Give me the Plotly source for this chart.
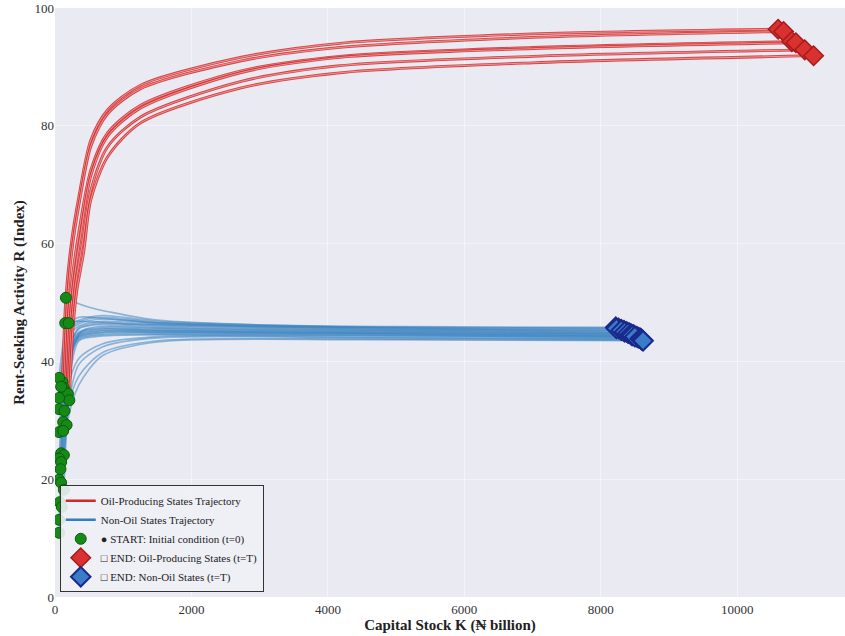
import plotly.graph_objects as go

# ---------------- data ----------------
# Oil-producing states trajectories: capital stock K and rent-seeking R
oil_K = [
    [110, 160, 250, 350, 525, 770, 1255, 2715, 4175, 7000, 10600],
    [130, 180, 250, 350, 525, 770, 1255, 2715, 4175, 7000, 10680],
    [150, 200, 250, 350, 525, 770, 1255, 2715, 4175, 7000, 10800],
    [170, 220, 270, 370, 525, 770, 1255, 2715, 4175, 7000, 10860],
    [190, 240, 300, 400, 525, 770, 1255, 2715, 4175, 7000, 10990],
    [210, 260, 320, 420, 525, 770, 1255, 2715, 4175, 7000, 11120],
]
oil_R = [
    [36.5, 51.0, 61.0, 68.0, 77.6, 82.7, 86.9, 91.6, 94.0, 95.6, 96.4],
    [35.5, 50.0, 59.0, 66.5, 76.5, 82.0, 86.3, 91.0, 93.3, 95.0, 96.0],
    [34.8, 48.0, 54.0, 62.0, 72.5, 78.8, 83.5, 89.3, 91.8, 93.3, 94.3],
    [33.9, 47.0, 53.0, 61.0, 71.5, 78.2, 83.0, 89.0, 91.6, 93.1, 94.1],
    [34.5, 46.0, 53.0, 60.0, 69.0, 76.4, 81.5, 87.5, 90.2, 91.8, 92.9],
    [33.4, 45.0, 52.0, 58.5, 67.4, 74.7, 80.5, 86.4, 89.0, 90.7, 91.9],
]

# Non-oil states trajectories
non_K = [
    [160, 300, 500, 800, 1500, 3000, 5000, 8220],
    [150, 300, 600, 1200, 3000, 8260],
    [200, 350, 700, 1500, 4000, 8300],
    [60, 100, 170, 350, 700, 1500, 4500, 8340],
    [90, 130, 200, 350, 700, 1500, 4500, 8380],
    [60, 100, 170, 350, 700, 1500, 4500, 8230],
    [60, 100, 170, 350, 700, 1500, 4500, 8420],
    [140, 180, 250, 350, 700, 1500, 4500, 8300],
    [120, 160, 230, 350, 700, 1500, 4500, 8450],
    [170, 210, 280, 400, 700, 1500, 4500, 8350],
    [60, 100, 170, 350, 700, 1500, 4500, 8480],
    [120, 160, 230, 350, 700, 1500, 4500, 8400],
    [90, 130, 200, 350, 700, 1500, 4500, 8500],
    [130, 170, 240, 350, 700, 1500, 4500, 8440],
    [60, 100, 170, 350, 700, 1500, 4500, 8520],
    [90, 130, 200, 350, 700, 1500, 4500, 8460],
    [80, 120, 190, 350, 700, 1500, 4500, 8540],
    [60, 100, 170, 350, 700, 1500, 4500, 8560],
    [90, 130, 200, 350, 700, 1500, 4500, 8500],
    [130, 170, 240, 350, 700, 1500, 4500, 8580],
    [70, 110, 180, 350, 700, 1500, 4500, 8600],
    [100, 140, 210, 350, 700, 1500, 4500, 8590],
    [60, 100, 170, 350, 700, 1500, 4500, 8610],
    [60, 100, 170, 350, 700, 1500, 4500, 8620],
]
non_R = [
    [50.8, 50.0, 49.2, 48.4, 47.0, 46.2, 45.9, 45.8],
    [46.5, 46.8, 46.7, 46.3, 45.9, 45.6],
    [46.5, 47.5, 47.3, 46.5, 45.7, 45.4],
    [37.2, 41.4, 45.7, 47.0, 47.8, 46.8, 45.8, 45.2],
    [35.7, 40.4, 45.1, 46.7, 47.5, 46.6, 45.7, 45.0],
    [33.8, 39.2, 44.5, 46.4, 47.2, 46.5, 45.8, 45.6],
    [31.9, 37.9, 43.8, 46.0, 46.8, 46.3, 45.5, 44.8],
    [31.6, 37.6, 43.5, 45.7, 46.5, 46.1, 45.4, 45.3],
    [29.7, 36.3, 43.0, 45.5, 46.3, 45.9, 45.3, 44.6],
    [29.2, 35.9, 42.6, 45.2, 46.0, 45.7, 45.2, 45.0],
    [28.0, 35.1, 42.2, 45.0, 45.8, 45.6, 45.1, 44.5],
    [28.2, 35.2, 42.1, 44.8, 45.6, 45.4, 45.0, 44.8],
    [24.4, 32.8, 41.3, 44.7, 45.5, 45.3, 44.9, 44.3],
    [24.1, 32.6, 41.1, 44.5, 45.3, 45.2, 44.8, 44.6],
    [23.5, 32.2, 40.9, 44.4, 45.2, 45.1, 44.8, 44.2],
    [22.9, 31.7, 40.6, 44.2, 45.0, 45.0, 44.7, 44.4],
    [21.7, 31.0, 40.3, 44.1, 44.9, 44.9, 44.6, 44.1],
    [19.9, 29.8, 39.7, 43.9, 44.7, 44.8, 44.5, 44.0],
    [19.4, 29.4, 39.5, 43.7, 44.5, 44.6, 44.4, 44.2],
    [18.2, 28.6, 39.1, 43.5, 44.3, 44.5, 44.3, 43.9],
    [16.1, 25.0, 35.0, 40.5, 43.0, 44.2, 44.1, 43.7],
    [15.3, 24.0, 33.5, 39.5, 42.5, 44.0, 44.0, 43.8],
    [13.1, 21.5, 31.0, 37.5, 41.5, 43.5, 43.8, 43.6],
    [10.9, 19.5, 29.0, 36.0, 41.0, 43.3, 43.7, 43.5],
]

x_ticks = [0, 2000, 4000, 6000, 8000, 10000]
x_ticklabels = ["0", "2000", "4000", "6000", "8000", "10000"]
y_ticks = [0, 20, 40, 60, 80, 100]

x_title = "Capital Stock K (₦ billion)"
y_title = "Rent-Seeking Activity R (Index)"
legend_names = [
    "Oil-Producing States Trajectory",
    "Non-Oil States Trajectory",
    "● START: Initial condition (t=0)",
    "□ END: Oil-Producing States (t=T)",
    "□ END: Non-Oil States (t=T)",
]

FONT = "Liberation Serif"
RED = "#d62728"
BLUE = "#3f86c2"

fig = go.Figure()

# trajectories
for ks, rs in zip(non_K, non_R):
    fig.add_trace(go.Scatter(
        x=ks, y=rs, mode="lines", line=dict(color=BLUE, width=1.6, shape="spline", smoothing=0.8),
        opacity=0.55, name=legend_names[1], legendgroup="non", showlegend=False, hoverinfo="skip"))
for ks, rs in zip(oil_K, oil_R):
    fig.add_trace(go.Scatter(
        x=ks, y=rs, mode="lines", line=dict(color=RED, width=2.8, shape="spline", smoothing=0.8),
        opacity=0.85, name=legend_names[0], legendgroup="oil", showlegend=False, hoverinfo="skip"))
    # lighter core gives the double-stroke look of the reference
    fig.add_trace(go.Scatter(
        x=ks, y=rs, mode="lines", line=dict(color="#f3c4c4", width=0.8, shape="spline", smoothing=0.8),
        opacity=0.8, legendgroup="oil", showlegend=False, hoverinfo="skip"))

# legend-only line entries
fig.add_trace(go.Scatter(x=[None], y=[None], mode="lines", line=dict(color=RED, width=2.5),
                         name=legend_names[0]))
fig.add_trace(go.Scatter(x=[None], y=[None], mode="lines", line=dict(color="#2f7fc1", width=2.5),
                         name=legend_names[1]))

# start points
start_x = [k[0] for k in oil_K] + [k[0] for k in non_K]
start_y = [r[0] for r in oil_R] + [r[0] for r in non_R]
fig.add_trace(go.Scatter(
    x=start_x, y=start_y, mode="markers", name=legend_names[2],
    marker=dict(symbol="circle", size=11, color="#168a16", line=dict(color="#0b5e0b", width=1))))

# end points
fig.add_trace(go.Scatter(
    x=[k[-1] for k in oil_K], y=[r[-1] for r in oil_R], mode="markers", name=legend_names[3],
    marker=dict(symbol="diamond", size=15, color="#d93030", line=dict(color="#a61b1b", width=1.5))))
fig.add_trace(go.Scatter(
    x=[k[-1] for k in non_K], y=[r[-1] for r in non_R], mode="markers", name=legend_names[4],
    marker=dict(symbol="diamond", size=15, color="#3a7cc8", line=dict(color="#1a2a8c", width=2))))

fig.update_layout(
    width=845, height=636,
    margin=dict(l=55, r=0, t=8, b=39),
    paper_bgcolor="white", plot_bgcolor="#EAEAF2",
    font=dict(family=FONT, size=13, color="#333333"),
    showlegend=True,
    legend=dict(x=0.006, y=0.008, xanchor="left", yanchor="bottom",
                bgcolor="rgba(240,240,246,0.9)", bordercolor="#333333", borderwidth=1,
                font=dict(family=FONT, size=11, color="#222222"),
                tracegroupgap=0, itemwidth=30),
    xaxis=dict(range=[0, 11580], tickvals=x_ticks, ticktext=x_ticklabels,
               showgrid=True, gridcolor="#F3F3F8", gridwidth=1, zeroline=False, showline=False,
               ticks="", ticklabelstandoff=3, tickfont=dict(family=FONT, size=13, color="#333333"),
               title=dict(text="<b>" + x_title + "</b>", font=dict(family=FONT, size=15, color="#222222"),
                          standoff=2)),
    yaxis=dict(range=[0, 100], tickvals=y_ticks,
               showgrid=True, gridcolor="#F3F3F8", gridwidth=1, zeroline=False, showline=False,
               ticks="", tickfont=dict(family=FONT, size=13, color="#333333"),
               title=dict(text="<b>" + y_title + "</b>", font=dict(family=FONT, size=15, color="#222222"),
                          standoff=6)),
)

fig.write_html("out.html")
